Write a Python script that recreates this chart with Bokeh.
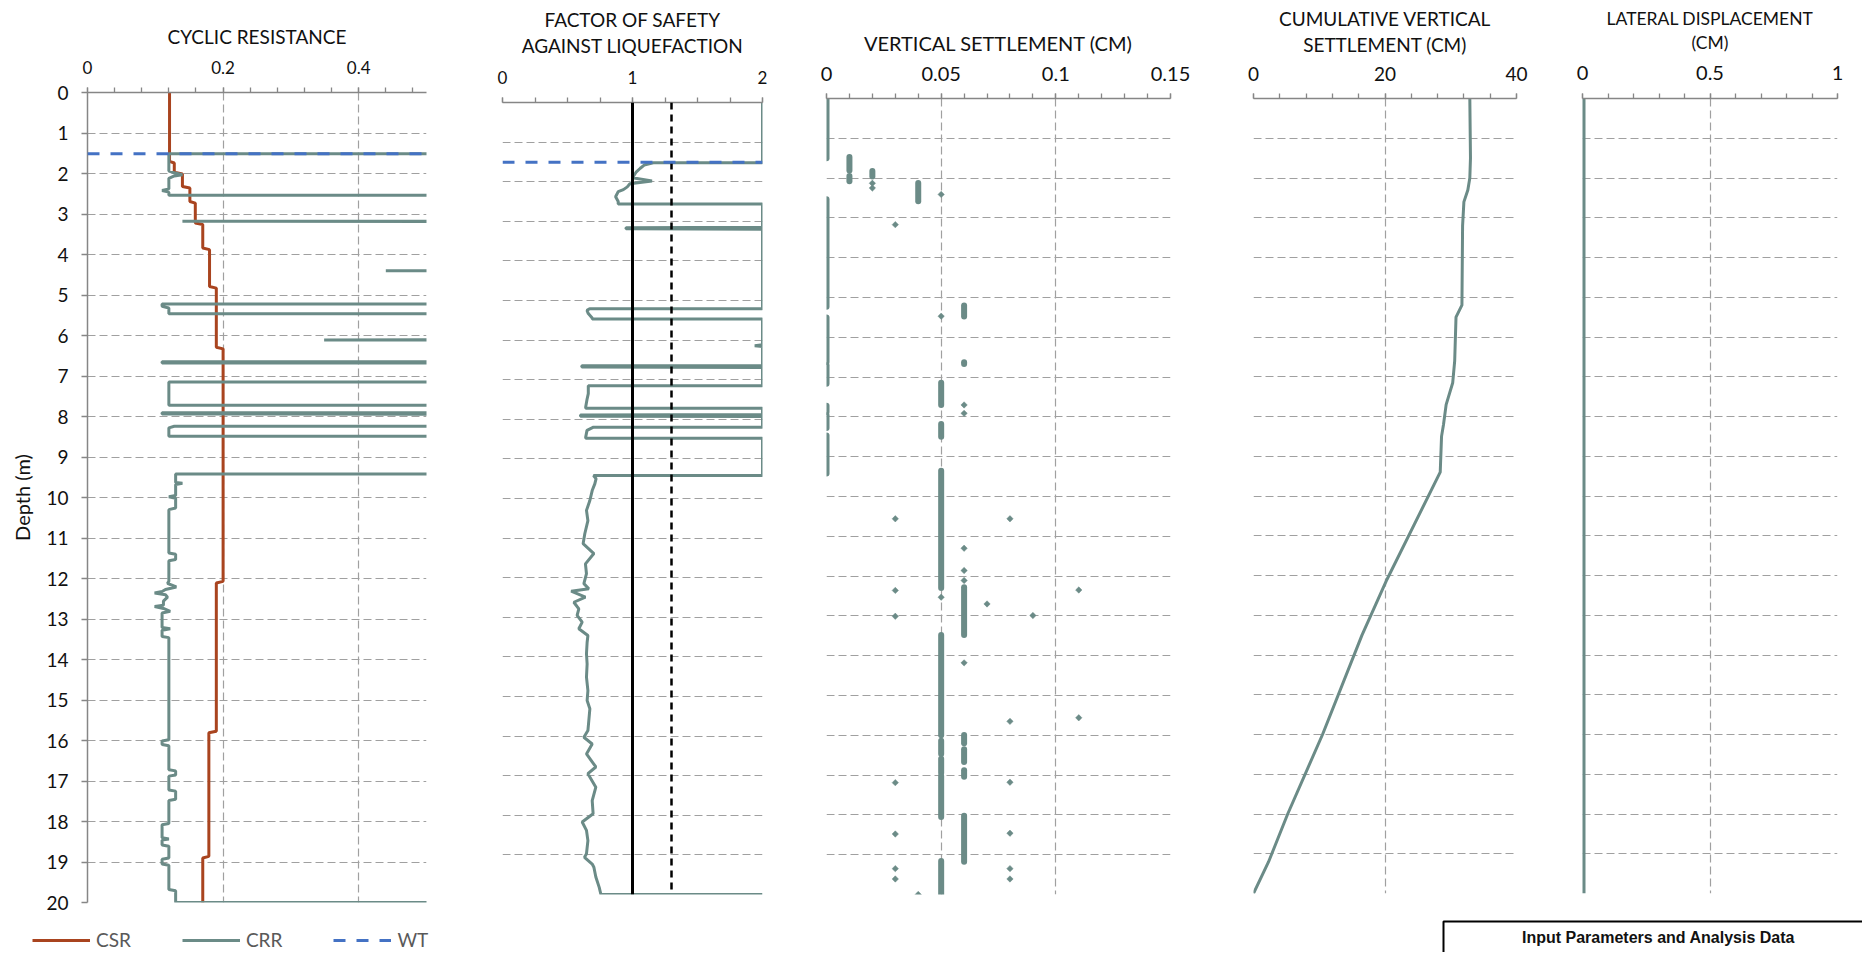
from bokeh.plotting import figure
from bokeh.models import (Range1d, FixedTicker, Label, Legend, LegendItem, BoxAnnotation,
                          Span, NumeralTickFormatter, Title)
from bokeh.layouts import row, column
from bokeh.embed import file_html
from bokeh.resources import INLINE

# ---------------- data ----------------
WT_DEPTH = 1.51

CSR_DEPTH = [0, 1.70, 1.74, 1.97, 2.01, 2.32, 2.36, 2.69, 2.73, 3.22, 3.26, 3.84, 3.88, 4.79, 4.83,
             6.29, 6.33, 12.07, 12.11, 15.77, 15.81, 18.86, 18.90, 20.0]
CSR = [0.121, 0.121, 0.128, 0.128, 0.140, 0.140, 0.151, 0.151, 0.159, 0.159, 0.170, 0.170, 0.180,
       0.180, 0.190, 0.190, 0.200, 0.200, 0.190, 0.190, 0.179, 0.179, 0.170, 0.170]

CRR_DEPTH = [1.51, 1.51, 1.94, 1.98, 2.03, 2.06, 2.12, 2.38, 2.42, 2.46, 2.54, 2.54,
             3.16, 3.18, 3.20, 4.37, 4.40, 4.43, 5.22, 5.22, 5.28, 5.32, 5.46, 5.46,
             6.08, 6.11, 6.15, 6.64, 6.65, 6.68, 6.69, 7.15, 7.15, 7.72, 7.72,
             7.90, 7.91, 7.94, 7.95, 8.24, 8.24, 8.28, 8.49, 8.49, 9.42, 9.42,
             9.63, 9.65, 9.68, 9.95, 9.98, 10.02, 10.26, 10.30, 11.37, 11.40, 11.53, 11.56,
             12.07, 12.12, 12.21, 12.27, 12.32, 12.36, 12.40, 12.46, 12.56, 12.66, 12.69,
             12.74, 12.81, 12.85, 13.21, 13.24, 13.28, 13.43, 13.46, 15.98, 16.01, 16.10,
             16.13, 16.72, 16.75, 16.85, 16.88, 17.22, 17.25, 17.45, 17.48, 18.05, 18.08,
             18.40, 18.43, 18.46, 18.58, 18.61, 18.90, 18.93, 19.05, 19.08, 19.68, 19.71,
             20.0, 20.0]
CRR = [2.0, 0.120, 0.120, 0.128, 0.140, 0.128, 0.120, 0.120, 0.110, 0.120, 0.120, 2.0,
       2.0, 0.140, 2.0, 2.0, 0.440, 2.0, 2.0, 0.110, 0.110, 0.120, 0.120, 2.0,
       2.0, 0.349, 2.0, 2.0, 0.110, 0.110, 2.0, 2.0, 0.120, 0.120, 2.0,
       2.0, 0.110, 0.110, 2.0, 2.0, 0.128, 0.120, 0.120, 2.0, 2.0, 0.130,
       0.130, 0.140, 0.130, 0.130, 0.120, 0.130, 0.130, 0.120, 0.120, 0.130, 0.130, 0.120,
       0.120, 0.118, 0.131, 0.115, 0.110, 0.099, 0.115, 0.118, 0.112, 0.112, 0.099,
       0.112, 0.122, 0.110, 0.110, 0.122, 0.110, 0.110, 0.120, 0.120, 0.110, 0.110,
       0.120, 0.120, 0.130, 0.130, 0.120, 0.120, 0.130, 0.130, 0.120, 0.120, 0.110,
       0.110, 0.120, 0.110, 0.110, 0.120, 0.120, 0.110, 0.110, 0.120, 0.120, 0.130,
       0.130, 2.0]

FS_DEPTH = [0, 1.52, 1.52, 1.58, 1.66, 1.75, 1.90, 1.98, 2.05, 2.13, 2.20, 2.25, 2.38, 2.50, 2.56, 2.56,
            3.15, 3.16, 3.19, 3.20,
            5.21, 5.21, 5.25, 5.33, 5.44, 5.47, 5.47,
            6.12, 6.14, 6.16,
            6.64, 6.65, 6.68, 6.69,
            7.15, 7.15, 7.35, 7.50, 7.69, 7.72, 7.72,
            7.88, 7.89, 7.92, 7.93,
            8.20, 8.20, 8.28, 8.45, 8.48, 8.48,
            9.42, 9.42, 9.50, 9.63, 9.80, 10.05, 10.30, 10.56, 10.89, 11.14, 11.39, 11.65, 11.90,
            12.15, 12.28, 12.34, 12.49, 12.62, 12.79, 12.95, 13.12, 13.29, 13.46, 13.63, 13.92,
            14.18, 14.51, 14.85, 15.10, 15.31, 15.61, 15.86, 16.03, 16.20, 16.45, 16.78, 16.95,
            17.29, 17.63, 17.96, 18.17, 18.38, 18.64, 18.97, 19.06, 19.23, 19.31, 19.56, 19.82,
            20.0, 20.0]
FS = [2.0, 2.0, 1.16, 1.09, 1.06, 1.03, 1.00, 1.15, 0.98, 0.96, 0.93, 0.89, 0.87, 0.89, 0.89, 2.0,
      2.0, 0.95, 0.95, 2.0,
      2.0, 0.67, 0.65, 0.66, 0.69, 0.69, 2.0,
      2.0, 1.94, 2.0,
      2.0, 0.61, 0.61, 2.0,
      2.0, 0.66, 0.66, 0.65, 0.64, 0.64, 2.0,
      2.0, 0.60, 0.60, 2.0,
      2.0, 0.70, 0.65, 0.64, 0.64, 2.0,
      2.0, 0.70, 0.72, 0.71, 0.69, 0.672, 0.646, 0.657, 0.633, 0.620, 0.703, 0.638, 0.646,
      0.626, 0.664, 0.528, 0.638, 0.549, 0.587, 0.574, 0.613, 0.587, 0.657, 0.651, 0.646,
      0.651, 0.646, 0.657, 0.651, 0.672, 0.664, 0.657, 0.626, 0.690, 0.646, 0.718, 0.657,
      0.718, 0.690, 0.697, 0.613, 0.646, 0.657, 0.646, 0.631, 0.690, 0.703, 0.718, 0.744,
      0.757, 2.0]
FS_REF = [1.0, 1.3]

# vertical settlement: runs of consecutive equal readings, and single readings
VS_RUN_VALUE = [0.00, 0.01, 0.01, 0.02, 0.04, 0.00, 0.06, 0.00, 0.06, 0.00, 0.05, 0.00, 0.00,
                0.05, 0.00, 0.05, 0.06, 0.05, 0.06, 0.05, 0.06, 0.05, 0.06, 0.05, 0.06, 0.05]
VS_RUN_TOP = [0.00, 1.47, 1.95, 1.82, 2.12, 2.53, 5.20, 5.50, 6.63, 6.70, 7.14, 7.72, 7.96,
              8.18, 8.47, 9.35, 12.28, 13.48, 15.99, 16.14, 16.35, 16.59, 16.88, 17.02, 18.02, 19.16]
VS_RUN_BOTTOM = [1.50, 1.81, 2.08, 1.96, 2.58, 5.23, 5.48, 6.62, 6.67, 7.17, 7.70, 7.88, 8.28,
                 8.50, 9.42, 12.30, 13.48, 16.00, 16.20, 16.47, 16.67, 16.95, 17.04, 18.05, 19.18, 20.0]
VS_DOT_VALUE = [0.02, 0.02, 0.05, 0.03, 0.05, 0.06, 0.06, 0.03, 0.08, 0.06, 0.06, 0.06, 0.03, 0.11,
                0.05, 0.07, 0.03, 0.09, 0.06, 0.08, 0.11, 0.03, 0.08, 0.03, 0.08, 0.03, 0.08,
                0.03, 0.08, 0.04]
VS_DOT_DEPTH = [2.13, 2.25, 2.41, 3.17, 5.47, 7.70, 7.91, 10.56, 10.56, 11.30, 11.86, 12.11, 12.36,
                12.35, 12.53, 12.70, 13.01, 12.99, 14.18, 15.65, 15.56, 17.19, 17.18, 18.48,
                18.46, 19.35, 19.35, 19.61, 19.61, 20.0]

CUM_DEPTH = [0, 1.5, 2.0, 2.3, 2.6, 3.2, 5.2, 5.5, 6.6, 7.15, 7.7, 8.2, 8.5, 9.4, 12.1, 13.5,
             16.0, 18.0, 19.2, 20.0]
CUM = [32.9, 33.0, 32.9, 32.6, 32.0, 31.8, 31.7, 30.8, 30.6, 30.3, 29.3, 28.9, 28.6, 28.4, 20.3,
       16.5, 10.5, 5.2, 2.3, 0.0]

LAT_DEPTH = [0, 20]
LAT = [0, 0]

DEPTH_TICKS = list(range(0, 21))

# ---------------- style ----------------
FONT = "Lato"
AXIS_COLOR = "#868686"
GRID_COLOR = "#A0A0A0"
CSR_COLOR = "#A9441F"
CRR_COLOR = "#6B8B87"
WT_COLOR = "#4472C4"
TEXT_COLOR = "#111111"
ROW_H = 918
NAN = float("nan")


def panel(width, left, right, top, bottom, xmax, major, minor, tick_size, tick_standoff,
          title_lines, title_size, label_standoff, title_standoff=0, show_y=False):
    p = figure(width=width, height=ROW_H, x_range=Range1d(0, xmax), y_range=Range1d(20, 0),
               x_axis_location="above", y_axis_location="left" if show_y else None,
               output_backend="svg", toolbar_location=None, title=None,
               min_border_left=left, min_border_right=right,
               min_border_top=top, min_border_bottom=bottom)
    p.outline_line_color = None
    xt = FixedTicker(ticks=major, minor_ticks=minor)
    xa = p.xaxis[0]
    xa.ticker = xt
    p.xgrid.ticker = xt
    xa.formatter = NumeralTickFormatter(format="0.[00]")
    xa.axis_line_color = AXIS_COLOR
    xa.axis_line_width = 1.5
    xa.major_tick_line_color = AXIS_COLOR
    xa.minor_tick_line_color = AXIS_COLOR
    xa.major_tick_line_width = 1.3
    xa.minor_tick_line_width = 1.3
    xa.major_tick_in = 0
    xa.major_tick_out = 5
    xa.minor_tick_in = 0
    xa.minor_tick_out = 5
    xa.major_label_text_font = FONT
    xa.major_label_text_font_size = tick_size
    xa.major_label_text_color = TEXT_COLOR
    xa.major_label_standoff = tick_standoff
    # the title line nearest the chart is the axis label of the top axis
    xa.axis_label = title_lines[-1]
    xa.axis_label_text_font = FONT
    xa.axis_label_text_font_size = title_size
    xa.axis_label_text_font_style = "normal"
    xa.axis_label_text_color = TEXT_COLOR
    xa.axis_label_standoff = label_standoff
    if len(title_lines) > 1:
        p.add_layout(Title(text=title_lines[0], align="center", text_font=FONT,
                           text_font_size=title_size, text_font_style="normal",
                           text_color=TEXT_COLOR, standoff=title_standoff), "above")
    yt = FixedTicker(ticks=DEPTH_TICKS, minor_ticks=[])
    p.ygrid.ticker = yt
    for g in (p.xgrid[0], p.ygrid[0]):
        g.grid_line_color = GRID_COLOR
        g.grid_line_dash = "8 4"
        g.grid_line_width = 1.2
    if show_y:
        ya = p.yaxis[0]
        ya.ticker = yt
        ya.formatter = NumeralTickFormatter(format="0")
        ya.axis_line_color = AXIS_COLOR
        ya.axis_line_width = 1.5
        ya.major_tick_line_color = AXIS_COLOR
        ya.major_tick_line_width = 1.3
        ya.major_tick_in = 0
        ya.major_tick_out = 6
        ya.minor_tick_out = 0
        ya.minor_tick_in = 0
        ya.major_label_text_font = FONT
        ya.major_label_text_font_size = "19px"
        ya.major_label_text_color = TEXT_COLOR
        ya.major_label_standoff = 13
        ya.axis_label = "Depth (m)"
        ya.axis_label_text_font = FONT
        ya.axis_label_text_font_size = "20px"
        ya.axis_label_text_font_style = "normal"
        ya.axis_label_text_color = TEXT_COLOR
        ya.axis_label_standoff = 9
    return p


def frange(a, b, step):
    out = []
    v = a
    while v <= b + 1e-9:
        out.append(round(v, 6))
        v += step
    return out


# Panel 1: cyclic resistance
p1 = panel(468, 87, 42, 92, 16, 0.5, [0, 0.2, 0.4], frange(0, 0.5, 0.04), "17px", 14,
           ["CYCLIC RESISTANCE"], "19px", 10, show_y=True)
p1.line(x=CSR, y=CSR_DEPTH, line_color=CSR_COLOR, line_width=3)
p1.line(x=CRR, y=CRR_DEPTH, line_color=CRR_COLOR, line_width=3)
p1.add_layout(Span(location=WT_DEPTH, dimension="width", line_color=WT_COLOR, line_width=3,
                   line_dash="12 11"))

# Panel 2: factor of safety
p2 = panel(330, 34, 36, 102, 24, 2, [0, 1, 2], frange(0, 2, 0.25), "17px", 14,
           ["FACTOR OF SAFETY", "AGAINST LIQUEFACTION"], "19px", 11, 0)
p2.line(x=FS, y=FS_DEPTH, line_color=CRR_COLOR, line_width=3)
p2.add_layout(Span(location=FS_REF[0], dimension="height", line_color="black", line_width=3))
p2.add_layout(Span(location=FS_REF[1], dimension="height", line_color="black", line_width=2.5,
                   line_dash="7 5"))
p2.add_layout(Span(location=WT_DEPTH, dimension="width", line_color=WT_COLOR, line_width=3,
                   line_dash="12 11"))

# Panel 3: vertical settlement
p3 = panel(410, 28, 38, 98, 24, 0.15, [0, 0.05, 0.1, 0.15], frange(0, 0.15, 0.01), "20px", 13,
           ["VERTICAL SETTLEMENT (CM)"], "20px", 9)
p3.segment(x0=VS_RUN_VALUE, y0=VS_RUN_TOP, x1=VS_RUN_VALUE, y1=VS_RUN_BOTTOM,
           line_color=CRR_COLOR, line_width=6, line_cap="round")
p3.scatter(x=VS_DOT_VALUE, y=VS_DOT_DEPTH, marker="square", angle=0.785398, size=4.5,
           fill_color=CRR_COLOR, line_color=CRR_COLOR, line_width=0.5)

# Panel 4: cumulative vertical settlement
p4 = panel(340, 45, 32, 98, 25, 40, [0, 20, 40], frange(0, 40, 4), "19px", 13,
           ["CUMULATIVE VERTICAL", "SETTLEMENT (CM)"], "19px", 8, 0)
p4.line(x=CUM, y=CUM_DEPTH, line_color=CRR_COLOR, line_width=3)

# Panel 5: lateral displacement
p5 = panel(306, 34, 17, 98, 25, 1, [0, 0.5, 1], frange(0, 1, 0.1), "20px", 14,
           ["LATERAL DISPLACEMENT", "(CM)"], "17.5px", 10, 0)
p5.line(x=LAT, y=LAT_DEPTH, line_color=CRR_COLOR, line_width=6)

# Bottom strip: legend and data box (coordinates of the strip equal page pixels)
pb = figure(width=1862, height=34, x_range=Range1d(0, 1862), y_range=Range1d(952, 918),
            x_axis_location=None, y_axis_location=None, min_border=0,
            output_backend="svg", toolbar_location=None)
pb.outline_line_color = None
pb.grid.visible = False
r_csr = pb.line(x=[NAN], y=[NAN], line_color=CSR_COLOR, line_width=3)
r_crr = pb.line(x=[NAN], y=[NAN], line_color=CRR_COLOR, line_width=3)
r_wt = pb.line(x=[NAN], y=[NAN], line_color=WT_COLOR, line_width=3, line_dash="12 11")
legend = Legend(items=[LegendItem(label="CSR", renderers=[r_csr]),
                       LegendItem(label="CRR", renderers=[r_crr]),
                       LegendItem(label="WT", renderers=[r_wt])],
                orientation="horizontal", location=(32, 1), padding=0, margin=0,
                spacing=51, glyph_width=58, glyph_height=20, label_standoff=6,
                label_text_font=FONT, label_text_font_size="19px", label_text_color="#595959",
                border_line_color=None, background_fill_alpha=0)
pb.add_layout(legend)
pb.add_layout(BoxAnnotation(left=1443, right=1900, top=921, bottom=980, fill_color=None,
                            fill_alpha=0, line_color="black", line_alpha=1, line_width=2))
pb.add_layout(Label(x=1658, y=937, text="Input Parameters and Analysis Data", text_align="center",
                    text_baseline="middle", text_font="Liberation Sans", text_font_style="bold",
                    text_font_size="16px", text_color=TEXT_COLOR))

layout = column(row(column(p1), column(p2), column(p3), column(p4), column(p5), spacing=0),
                pb, spacing=0)
open("out.html", "w").write(file_html(layout, INLINE))
